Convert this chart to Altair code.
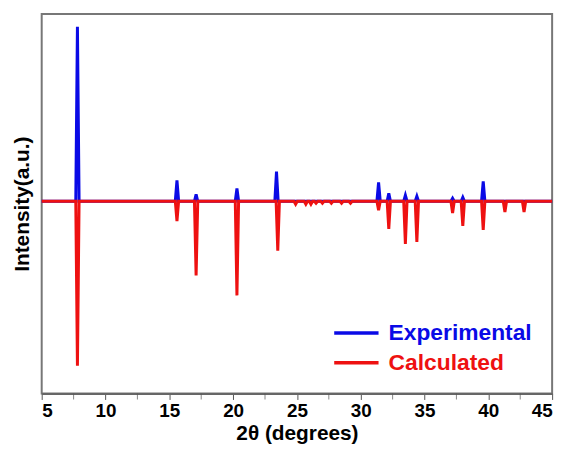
import altair as alt
import pandas as pd

# Peak positions (2theta, degrees) and intensities (arbitrary units)
exp_pos = [7.8, 15.6, 17.1, 20.3, 23.4, 31.4, 32.2, 33.5, 34.4, 37.2, 38.0, 39.6]
exp_int = [176, 21, 7, 13, 30, 19, 8, 6, 5, 3, 4, 20]

calc_pos = [7.8, 15.6, 17.1, 20.3, 23.5, 24.9, 25.7, 26.1, 26.5, 27.0, 27.7,
            28.5, 29.2, 31.4, 32.2, 33.5, 34.4, 37.2, 38.0, 39.6, 41.3, 42.8]
calc_int = [166, 20, 75, 95, 50, 3, 3, 3, 2, 2, 2,
            2, 2, 9, 28, 43, 41, 12, 25, 29, 11, 11]

x_ticks = [5, 10, 15, 20, 25, 30, 35, 40, 45]
x_minor = [7.5, 12.5, 17.5, 22.5, 27.5, 32.5, 37.5, 42.5]

HW = 0.13  # half-width of each drawn peak (style)


def pattern(pos, inten, sign, name):
    rows = [(5.0, 0.0)]
    for p, h in zip(pos, inten):
        rows += [(p - HW, 0.0), (p, sign * h), (p + HW, 0.0)]
    rows.append((45.0, 0.0))
    df = pd.DataFrame(rows, columns=["x", "y"])
    df["order"] = range(len(df))
    df["series"] = name
    return df


exp_df = pattern(exp_pos, exp_int, 1, "Experimental")
calc_df = pattern(calc_pos, calc_int, -1, "Calculated")

FONT = "Liberation Sans"
BLUE = "#0a0ae6"
RED = "#ee1111"

color = alt.Color(
    "series:N",
    scale=alt.Scale(domain=["Experimental", "Calculated"], range=[BLUE, RED]),
    legend=alt.Legend(
        title=None,
        orient="none",
        legendX=293,
        legendY=311,
        symbolType="stroke",
        symbolSize=2000,
        symbolStrokeWidth=3.5,
        clipHeight=22,
        labelFontSize=23,
        labelFont=FONT,
        labelFontWeight="bold",
        labelColor=alt.ExprRef(f"datum.label == 'Experimental' ? '{BLUE}' : '{RED}'"),
        rowPadding=7,
        labelOffset=8,
    ),
)

xenc = alt.X(
    "x:Q",
    scale=alt.Scale(domain=[5, 45], nice=False),
    axis=alt.Axis(
        values=x_ticks,
        title="2θ (degrees)",
        titleFont=FONT,
        titleFontSize=21,
        titleFontWeight="bold",
        titlePadding=2,
        labelFont=FONT,
        labelFontSize=19,
        labelFontWeight="bold",
        labelColor="black",
        titleColor="black",
        tickSize=6,
        tickColor="#555",
        domainColor="#666",
        domainWidth=2,
        labelPadding=2,
        grid=False,
    ),
)
yenc = alt.Y(
    "y:Q",
    scale=alt.Scale(domain=[-194, 189], nice=False, zero=False),
    axis=alt.Axis(
        title="Intensity(a.u.)",
        titleFont=FONT,
        titleFontSize=21,
        titleFontWeight="bold",
        titleColor="black",
        titlePadding=9,
        labels=False,
        ticks=False,
        domain=False,
        grid=False,
    ),
)

blue = alt.Chart(exp_df).mark_line(strokeWidth=3).encode(
    x=xenc, y=yenc, order="order:Q", color=color
)
red = alt.Chart(calc_df).mark_line(strokeWidth=3).encode(
    x=alt.X("x:Q"), y=alt.Y("y:Q"), order="order:Q", color=color
)

minor = alt.Chart(pd.DataFrame({"m": x_minor})).mark_tick(
    orient="vertical", color="#555", thickness=1, size=6
).encode(x=alt.X("m:Q"), y=alt.value(386))

chart = (
    alt.layer(blue, red, minor)
    .properties(
        width=515,
        height=383,
        padding={"left": 4, "top": 4, "right": 8, "bottom": 0},
    )
    .configure_view(stroke="#777", strokeWidth=2)
)

chart.save("out.html", embed_options={"renderer": "svg", "actions": False})
